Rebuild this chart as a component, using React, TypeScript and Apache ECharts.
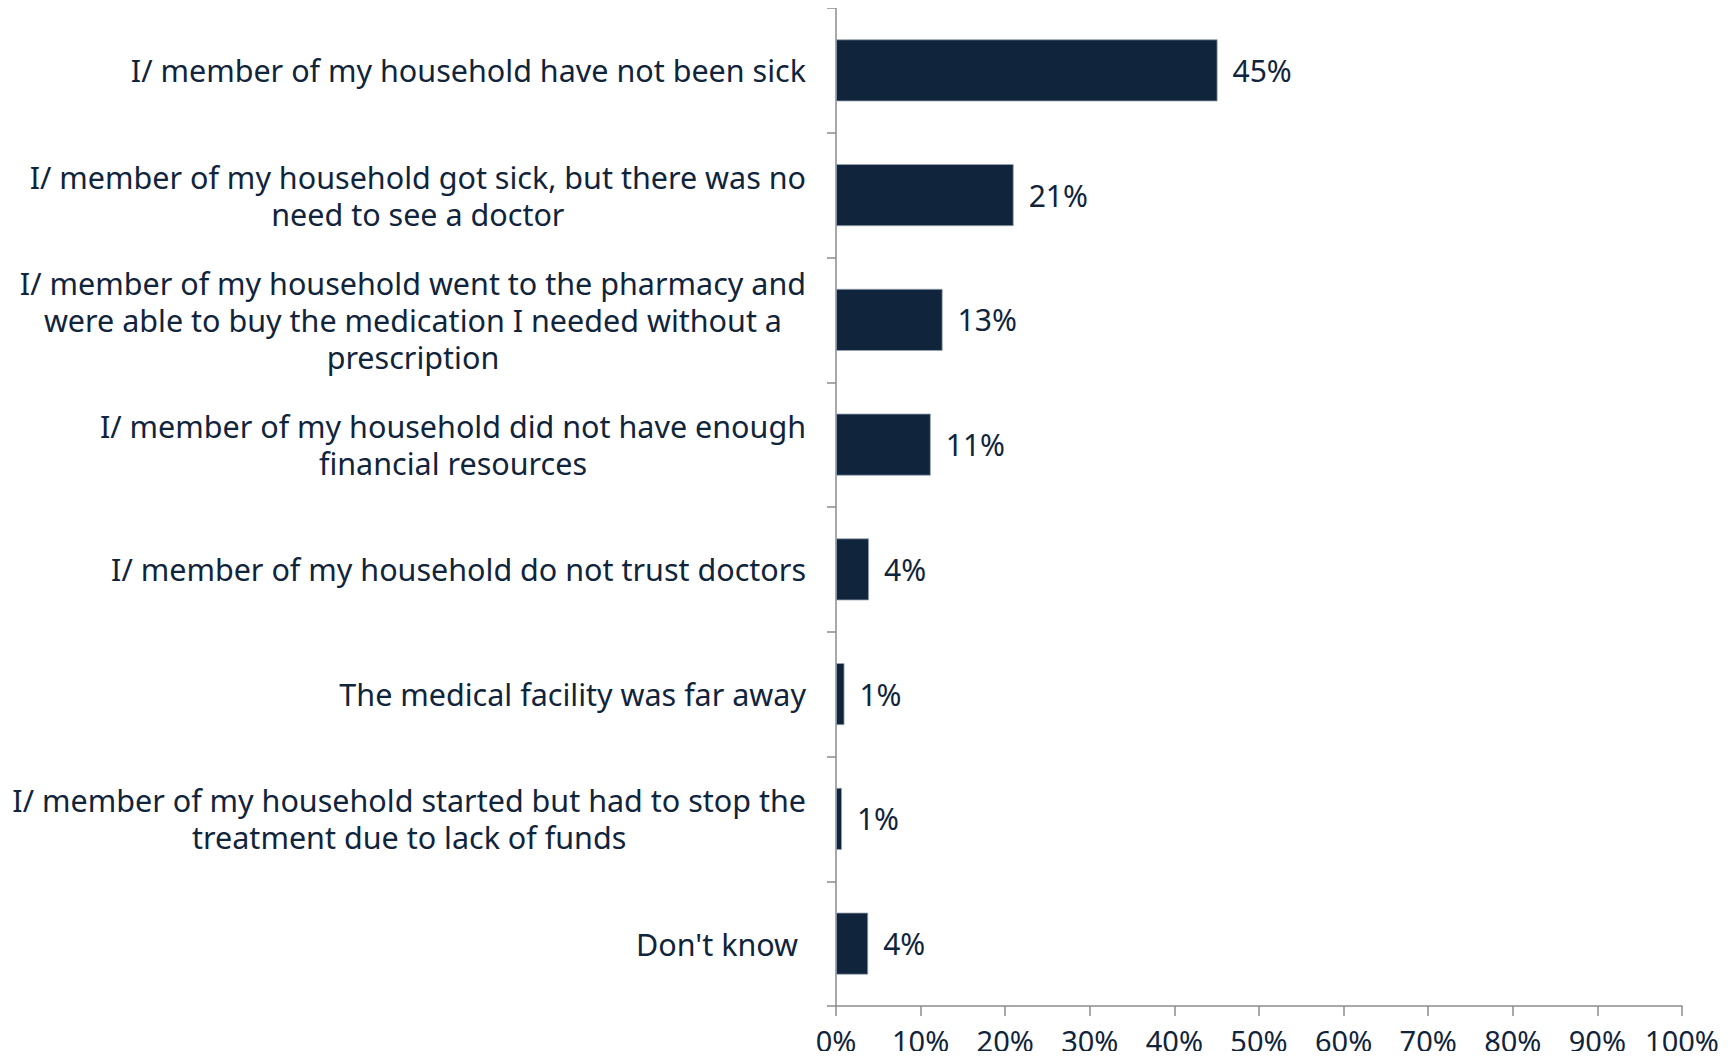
import React, { useEffect, useRef } from "react";
import * as echarts from "echarts";

const categories: string[][] = [
  ["I/ member of my household have not been sick"],
  ["I/ member of my household got sick, but there was no", "need to see a doctor"],
  [
    "I/ member of my household went to the pharmacy and",
    "were able to buy the medication I needed without a",
    "prescription",
  ],
  ["I/ member of my household did not have enough", "financial resources"],
  ["I/ member of my household do not trust doctors"],
  ["The medical facility was far away"],
  ["I/ member of my household started but had to stop the", "treatment due to lack of funds"],
  ["Don't know "],
];

const values: number[] = [45.1, 21.0, 12.6, 11.2, 3.9, 1.0, 0.7, 3.8];

const xTicks: number[] = [0, 10, 20, 30, 40, 50, 60, 70, 80, 90, 100];

const NAVY = "#10243c";
const AXIS = "#8c8c8c";
const FONT = "Noto Sans";

export default function App() {
  const ref = useRef<HTMLDivElement>(null);
  useEffect(() => {
    if (!ref.current) return;
    const chart = echarts.init(ref.current, undefined, { renderer: "svg" });
    const catKeys = categories.map((_, i) => "c" + i);
    chart.setOption({
      animation: false,
      backgroundColor: "#ffffff",
      grid: { left: 836, right: 49, top: 8, bottom: 53, containLabel: false },
      xAxis: {
        type: "value",
        min: xTicks[0],
        max: xTicks[xTicks.length - 1],
        interval: 10,
        axisLine: { show: true, lineStyle: { color: AXIS, width: 1.5 } },
        axisTick: { show: true, length: 10, lineStyle: { color: AXIS, width: 1.5 } },
        splitLine: { show: false },
        axisLabel: {
          color: NAVY,
          fontFamily: FONT,
          fontSize: 29,
          lineHeight: 30,
          margin: 19,
          formatter: (v: number) => v + "%",
        },
      },
      yAxis: {
        type: "category",
        inverse: true,
        data: catKeys,
        axisLine: { show: true, lineStyle: { color: AXIS, width: 1.5 } },
        axisTick: { show: true, length: 9, lineStyle: { color: AXIS, width: 1.5 } },
        axisLabel: {
          margin: 30,
          align: "right",
          formatter: (_v: string, idx: number) =>
            categories[idx].map((l) => "{c|" + l + "}").join("\n"),
          rich: {
            c: {
              align: "center",
              color: NAVY,
              fontFamily: FONT,
              fontSize: 30.5,
              lineHeight: 37,
            },
          },
        },
      },
      series: [
        {
          type: "bar",
          data: values,
          barWidth: 62,
          itemStyle: { color: NAVY, borderColor: "#9aa6b4", borderWidth: 0.8 },
          label: {
            show: true,
            position: "right",
            distance: 15,
            color: NAVY,
            fontFamily: FONT,
            fontSize: 30,
            formatter: (p: any) => Math.round(p.value) + "%",
          },
        },
      ],
    });
    return () => chart.dispose();
  }, []);
  return <div ref={ref} style={{ width: 1731, height: 1059, margin: -8 }} />;
}
